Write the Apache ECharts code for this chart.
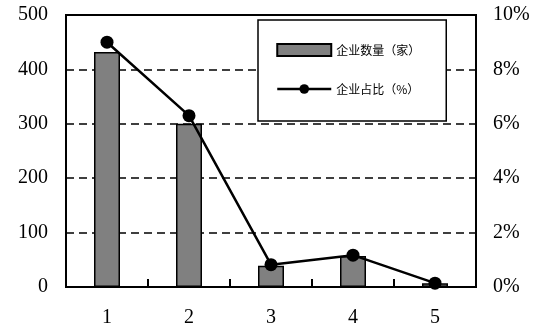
<!DOCTYPE html>
<html><head><meta charset="utf-8">
<script src="https://cdn.jsdelivr.net/npm/echarts@6/dist/echarts.min.js"></script>
<style>html,body{margin:0;padding:0;background:#fff}#c{width:540px;height:324px}</style>
</head><body><div id="c"></div>
<script>
var categories = ['1', '2', '3', '4', '5'];
var enterpriseCount = [432, 300, 39, 57, 7];
var enterpriseShare = [9.0, 6.3, 0.82, 1.17, 0.14];
var leftTicks = [0, 500, 100];
var rightTicks = [0, 10, 2];
var seriesNames = ['企业数量（家）', '企业占比（%）'];

var serif = '"Liberation Serif","DejaVu Serif",serif';
var chart = echarts.init(document.getElementById('c'));
chart.setOption({
  animation: false,
  backgroundColor: '#fff',
  grid: { left: 66, right: 64, top: 15, bottom: 37, outerBoundsMode: 'none', containLabel: false, show: true, borderColor: '#000', borderWidth: 2, backgroundColor: 'transparent' },
  legend: {
    orient: 'vertical', left: 258, top: 20,
    padding: [23, 26, 26, 18], itemGap: 26,
    itemWidth: 54, itemHeight: 12,
    backgroundColor: '#fff', borderColor: '#000', borderWidth: 1.5,
    lineStyle: { width: 2.5, color: '#000' },
    textStyle: { fontFamily: '"Noto Sans CJK SC",sans-serif', fontSize: 12, color: '#000' },
    data: [{ name: seriesNames[0], icon: 'rect' }, { name: seriesNames[1] }]
  },
  xAxis: {
    type: 'category', data: categories,
    axisLine: { lineStyle: { color: '#000', width: 2 } },
    axisTick: { show: true, interval: 0, inside: true, length: 8, lineStyle: { color: '#000', width: 2 } },
    axisLabel: { fontFamily: serif, fontSize: 20, color: '#000', margin: 21 }
  },
  yAxis: [{
    type: 'value', min: leftTicks[0], max: leftTicks[1], interval: leftTicks[2],
    axisLine: { show: true, lineStyle: { color: '#000', width: 2 } },
    axisTick: { show: false },
    axisLabel: { fontFamily: serif, fontSize: 20, color: '#000', margin: 18 },
    splitLine: { lineStyle: { color: '#000', type: [8, 5], width: 1.5 } }
  }, {
    type: 'value', min: rightTicks[0], max: rightTicks[1], interval: rightTicks[2],
    axisLine: { show: true, lineStyle: { color: '#000', width: 2 } },
    axisTick: { show: false },
    axisLabel: { fontFamily: serif, fontSize: 20, color: '#000', margin: 17, formatter: '{value}%' },
    splitLine: { show: false }
  }],
  series: [{
    name: seriesNames[0], type: 'bar', data: enterpriseCount, barWidth: 26,
    itemStyle: { color: '#808080', borderColor: '#000', borderWidth: 1.5 }
  }, {
    name: seriesNames[1], type: 'line', yAxisIndex: 1, data: enterpriseShare,
    symbol: 'circle', symbolSize: 13, z: 5,
    lineStyle: { color: '#000', width: 2.5 },
    itemStyle: { color: '#000' }
  }]
});
</script></body></html>
